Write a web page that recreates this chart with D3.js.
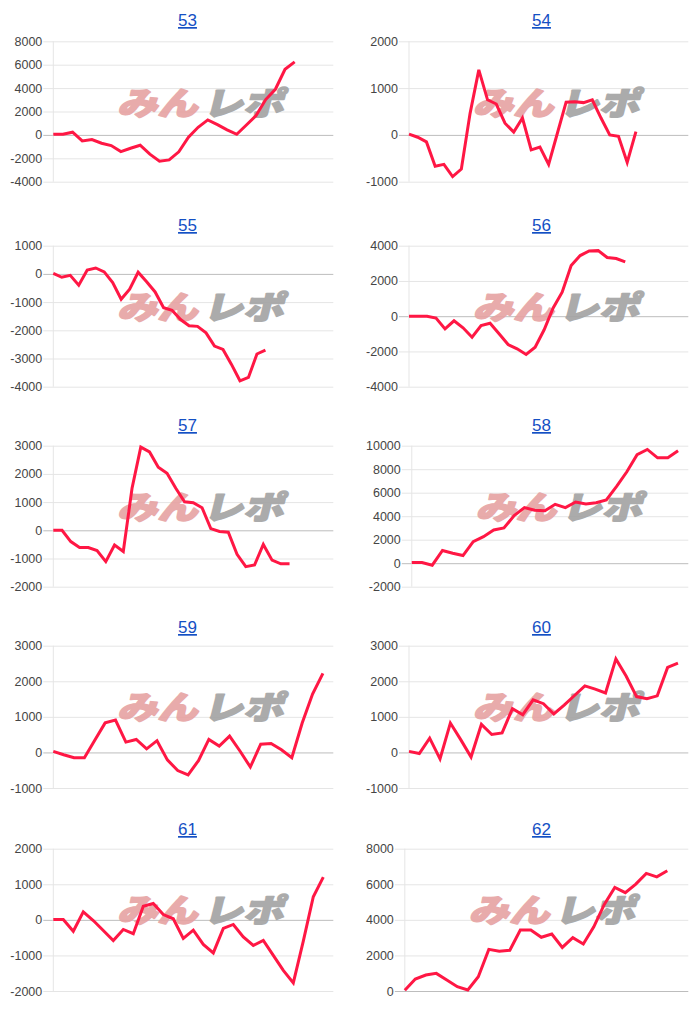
<!DOCTYPE html>
<html><head><meta charset="utf-8">
<script src="https://cdn.jsdelivr.net/npm/d3@7/dist/d3.min.js"></script>
<style>body{margin:0;background:#fff}svg{display:block}</style>
</head><body><svg id="c" width="700" height="1011"></svg>
<script>
// ---- data ----
const titles = ["53","54","55","56","57","58","59","60","61","62"];
const s53 = [50,50,230,-510,-400,-710,-910,-1430,-1140,-880,-1650,-2250,-2140,-1450,-200,650,1280,880,430,50,850,1650,3020,3900,5610,6240];
const s54 = [15,-50,-150,-670,-630,-890,-730,460,1390,750,660,250,60,360,-320,-260,-630,35,700,710,690,750,360,0,-30,-590,70];
const s55 = [20,-120,-50,-400,140,210,70,-310,-900,-540,60,-280,-640,-1200,-1290,-1620,-1840,-1860,-2090,-2560,-2680,-3210,-3790,-3670,-2840,-2700];
const s56 = [0,0,0,-110,-720,-260,-660,-1190,-530,-400,-1000,-1610,-1850,-2170,-1760,-770,470,1360,2870,3440,3700,3720,3330,3270,3080];
const s57 = [0,0,-400,-610,-610,-720,-1110,-520,-750,1490,2950,2780,2240,2020,1490,1010,980,800,60,-40,-70,-850,-1290,-1230,-500,-1060,-1190,-1190];
const s58 = [60,60,-170,1080,850,650,1840,2260,2830,3000,4050,4730,4500,4470,5010,4730,5210,5040,5150,5380,6540,7780,9230,9680,8970,8970,9570];
const s59 = [30,-65,-150,-150,340,830,910,290,365,100,330,-210,-510,-630,-230,365,180,460,40,-410,230,250,75,-150,825,1640,2220];
const s60 = [30,-30,400,-180,825,360,-130,790,505,550,1230,1060,1480,1370,1080,1330,1600,1870,1780,1670,2630,2140,1570,1510,1590,2390,2510];
const s61 = [10,10,-320,225,-20,-300,-580,-270,-390,380,460,150,30,-520,-290,-690,-930,-240,-130,-480,-720,-580,-1000,-1420,-1770,-600,650,1200];
const s62 = [40,670,900,990,620,240,60,800,2340,2230,2290,3430,3430,3020,3200,2450,3000,2640,3610,4870,5820,5530,6010,6610,6420,6760];
const series = [s53,s54,s55,s56,s57,s58,s59,s60,s61,s62];
const yMin  = [-4000,-1000,-4000,-4000,-2000,-2000,-1000,-1000,-2000,0];
const yMax  = [8000,2000,1000,4000,3000,10000,3000,3000,2000,8000];
const yStep = [2000,1000,1000,2000,1000,2000,1000,1000,1000,2000];
const xSpan = [29,32,33,31,32,27,27,27,28,27]; // number of day slots - 1
const watermarkA = "みん", watermarkB = "レポ";

// ---- layout ----
const svg = d3.select("#c");
const rowTop = [41.3,245.7,445.7,645.7,848.7];
const rowBot = [181.7,386.7,586.7,788,991];
const titleY = [26,231,431,633,835];
const colLeft = [10.3,366];
const colRight = [333.3,688.3];
const titleX = [187.5,541.5];
const FONT = "'Liberation Sans', Arial, Helvetica, sans-serif";
const FS = 12.5;

const meas = svg.append("text").attr("font-family",FONT).attr("font-size",FS).attr("opacity",0);
function tw(s){ meas.text(s); return meas.node().getComputedTextLength(); }

series.forEach((data,k)=>{
  const row = Math.floor(k/2), col = k%2;
  const ticks = d3.range(yMin[k], yMax[k]+yStep[k]/2, yStep[k]);
  const maxW = d3.max(ticks, t=>tw(String(t)));
  const ax = colLeft[col] + maxW + 11;
  const right = colRight[col];
  const top = rowTop[row], bot = rowBot[row];
  const x = d3.scaleLinear().domain([0,xSpan[k]]).range([ax,right]);
  const y = d3.scaleLinear().domain([yMin[k],yMax[k]]).range([bot,top]);
  const g = svg.append("g");

  // title
  g.append("text").attr("x",titleX[col]).attr("y",titleY[row]).attr("text-anchor","middle")
    .attr("font-family",FONT).attr("font-size",17).attr("fill","#1450c4")
    .style("text-decoration","underline").text(titles[k]);

  // gridlines via axis
  const yAxis = d3.axisLeft(y).tickValues(ticks).tickSize(-(right-ax+10)).tickPadding(1).tickFormat(d=>String(d));
  const ag = g.append("g").attr("transform",`translate(${right},0)`).call(yAxis);
  ag.select(".domain").remove();
  ag.selectAll(".tick line").attr("stroke",d=>d===0?"#bdbdbd":"#e5e5e5").attr("stroke-width",1)
    .attr("x1",0).attr("x2",-(right-ax+10));
  ag.selectAll(".tick text").attr("x",-(right-ax+11)).attr("font-family",FONT).attr("font-size",FS)
    .attr("fill","#454545").attr("text-anchor","end");
  // y axis vertical line
  g.append("line").attr("x1",ax).attr("x2",ax).attr("y1",top).attr("y2",bot).attr("stroke","#e5e5e5");

  // watermark
  const wm = g.append("g").attr("transform",`translate(${ax+150},${top+62}) skewX(-14) scale(1.3,1.03)`)
    .attr("font-family","'Noto Sans CJK JP', sans-serif").attr("font-size",31).attr("font-weight",900)
    .attr("stroke-linejoin","round");
  wm.append("text").attr("x",-2).attr("y",11).attr("text-anchor","end").attr("fill","#e6a2a2")
    .attr("stroke","#e6a2a2").attr("stroke-width",1.6).attr("opacity",0.9).text(watermarkA);
  wm.append("text").attr("x",2).attr("y",11).attr("text-anchor","start").attr("fill","#a3a3a3")
    .attr("stroke","#a3a3a3").attr("stroke-width",1.6).attr("opacity",0.9).text(watermarkB);

  // line
  const line = d3.line().x((d,i)=>x(i)).y(d=>y(d));
  g.append("path").datum(data).attr("d",line).attr("fill","none").attr("stroke","#ff1744")
    .attr("stroke-width",3).attr("stroke-linejoin","miter");
});
meas.remove();
</script></body></html>
